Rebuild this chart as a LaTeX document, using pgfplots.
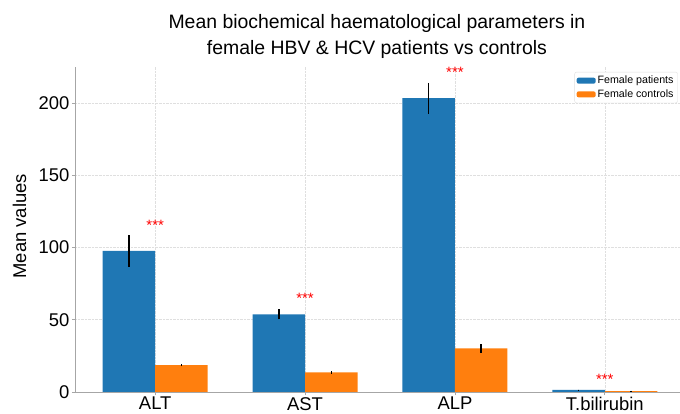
\documentclass[border=0pt]{standalone}
\usepackage{fontspec}
\setmainfont{Liberation Sans}
\usepackage{pgfplots}
\pgfplotsset{compat=1.18}
\definecolor{tabblue}{HTML}{1F77B4}
\definecolor{taborange}{HTML}{FF7F0E}
\begin{document}
\begin{tikzpicture}
\begin{axis}[
  at={(0,0)}, anchor=south west,
  scale only axis, width=610bp, height=325bp,
  xmin=-0.535, xmax=3.535, ymin=0, ymax=225,
  axis x line*=bottom, axis y line*=left,
  axis line style={gray!70, line width=1pt},
  xtick={0,1,2,3}, xticklabels={ALT,AST,ALP,T.bilirubin},
  ytick={0,50,100,150,200},
  tick align=outside, major tick length=3bp,
  major tick style={gray!70, line width=0.8pt},
  grid=major, grid style={densely dotted, gray!25, line width=0.6pt},
  ticklabel style={font=\fontsize{18.5}{21}\selectfont},
  xticklabel style={inner sep=2pt},
  yticklabel style={inner sep=2.5pt},
  /pgf/number format/assume math mode=true,
  ylabel={Mean values},
  ylabel style={font=\fontsize{18.5}{21}\selectfont, at={(axis description cs:-0.091,0.51)}, anchor=center},
  title={Mean biochemical haematological parameters in\\female HBV \& HCV patients vs controls},
  title style={font=\fontsize{19.5}{26}\selectfont, align=center, at={(axis description cs:0.495,1.075)}, anchor=center},
  legend style={at={(axis description cs:0.988,0.985)}, anchor=north east, font=\fontsize{10.7}{13}\selectfont, draw=gray!25, rounded corners=2pt, fill=white, inner sep=2pt, row sep=0.5pt, cells={anchor=west}},
  legend image code/.code={\fill[#1, draw=none] (0bp,-3bp) rectangle (19bp,3bp);},
]
\addplot[ybar, bar width=0.35, bar shift=0, fill=tabblue, draw=none,
  error bars/.cd, y dir=both, y explicit, error mark=none,
  error bar style={black, line width=1.5pt}]
  coordinates {(-0.175,97.7) +- (0,11) (0.825,53.8) +- (0,3.5) (1.825,203.4) +- (0,10.6) (2.825,1.4) +- (0,0.2)};
\addlegendentry{Female patients}
\addplot[ybar, bar width=0.35, bar shift=0, fill=taborange, draw=none,
  error bars/.cd, y dir=both, y explicit, error mark=none,
  error bar style={black, line width=1.5pt}]
  coordinates {(0.175,18.6) +- (0,0.8) (1.175,13.5) +- (0,0.7) (2.175,30.2) +- (0,3) (3.175,0.6) +- (0,0.1)};
\addlegendentry{Female controls}
\addplot[draw=none, mark=none, forget plot, only marks,
  nodes near coords, point meta=explicit symbolic,
  nodes near coords style={red, font=\fontsize{15}{15}\selectfont, anchor=center, inner sep=0pt}]
  coordinates {(0,115.5) [***] (1,64.5) [***] (2,221.5) [***] (3,8.7) [***]};
\end{axis}
\pgfresetboundingbox
\useasboundingbox (-75bp,-22bp) rectangle (605bp,392bp);
\end{tikzpicture}
\end{document}
